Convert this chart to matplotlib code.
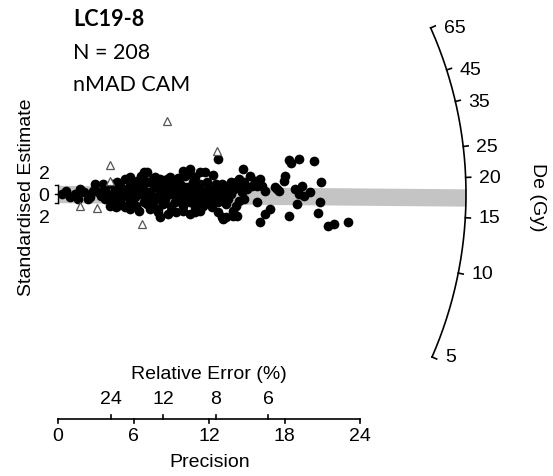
import numpy as np
import matplotlib.pyplot as plt
from matplotlib import font_manager

W, H = 553, 477
SX, SY = 12.6, 4.33      # pixels per unit (precision / standardised estimate)
X0, Y0 = 58, 195         # pixel position of origin
R_PX = 408               # radius of De arc in pixels
Z0 = np.log(17.77)       # central value (log De)
K = SY / SX

# ---- data ----
precision = [18.3, 18.5, 19.1, 20.3, 14.7, 18.0, 17.9, 20.9, 15.2, 15.6, 16.0, 16.2,
             16.4, 15.8, 15.4, 15.0, 14.6, 14.4, 14.8, 15.8, 14.0, 14.1, 14.2, 17.2,
             17.5, 18.8, 19.4, 19.1, 19.5, 20.0, 19.0, 20.8, 20.6, 18.3, 16.8, 16.4,
             16.0, 21.4, 21.9, 23.0, 12.7, 17.4, 13.9, 12.7, 13.0, 11.5, 13.9,
             7.1, 7.1, 7.3, 7.5, 7.9, 8.5, 8.7, 8.5, 9.0, 9.4, 9.5, 10.1, 10.5, 10.9,
             11.3, 11.7, 12.3, 9.8, 10.3, 10.9, 11.4, 11.9, 12.3, 12.7, 13.4, 13.8,
             10.1, 10.6, 11.1, 11.7, 12.2, 12.9, 13.5, 10.9, 11.3, 13.3, 9.5, 9.3,
             7.9, 8.1, 7.7, 9.1,
             0.95, 1.35, 1.75, 2.1, 2.5, 2.8, 3.2, 3.4, 3.7, 4.0, 4.2, 4.1, 4.5, 4.9,
             5.3, 5.6, 5.2, 5.7, 6.0, 6.4, 6.6, 6.9, 6.2, 6.8, 4.6, 5.3, 6.4, 6.8,
             5.7, 4.7, 7.5, 10.5, 13.1, 10.9, 7.1, 7.9, 4.7,
             0.3, 0.6, 1.6, 2.4, 2.9, 3.6, 4.4, 4.8, 5.1, 6.1, 6.5, 6.9, 7.3, 8.1,
             8.3, 8.9, 9.0, 9.7, 9.9, 10.3, 11.3, 11.8, 12.1, 12.5, 13.0, 13.3, 13.7,
             12.2, 10.5, 8.7, 8.1, 5.9, 7.7, 8.9, 9.9, 9.5, 10.9, 14.4, 14.8, 14.3,
             3.7, 4.3, 4.8, 5.0, 5.5, 5.9, 6.3, 6.7, 7.1, 7.5, 7.9, 8.3, 8.3, 8.65,
             9.3, 9.7, 10.1, 10.5, 10.7, 11.0, 11.5, 11.8, 12.1, 12.5, 12.7, 13.0,
             13.3, 13.7, 14.1, 9.0, 9.9, 7.3, 5.7]
std_est = [7.9, 7.2, 8.1, 7.6, 5.8, 4.2, 3.0, 2.8, 4.2, 3.0, 3.5, 1.8,
           0.7, 1.8, 1.8, 1.2, 0.5, -1.6, -1.2, -1.8, 1.2, -2.8, -5.1, 1.6,
           0.7, 1.2, 1.8, 0.0, -0.5, 0.5, -2.3, -1.8, -4.4, -5.1, -3.5, -4.6,
           -6.5, -7.4, -6.9, -6.5, 8.1, 1.2, -3.9, -4.2, -5.3, -2.8, -5.1,
           5.1, 2.8, 0.5, -2.8, -4.2, 2.3, 1.2, -1.2, -2.8, -4.2, 3.7, 4.2, 4.6, 3.9,
           5.1, 5.1, 4.4, 1.2, 1.6, 1.2, 0.5, 1.2, 1.2, 0.5, 1.8, 1.2,
           -0.7, -1.2, -1.8, -1.2, -1.6, -1.2, -1.2, -3.0, -3.9, -5.3, -1.6, 0.0,
           -0.5, 3.5, 1.6, 2.8,
           -0.7, 0.0, 1.2, 0.5, -0.7, 0.7, 0.5, -0.5, 1.2, 0.0, -1.6, -2.8, 1.2, 1.8,
           3.5, 1.6, -0.5, -1.6, 0.5, 1.8, 4.2, 3.0, -2.8, -1.8, -3.0, -3.0, -3.9, 5.1,
           3.9, 2.8, 3.5, 5.8, -5.8, -4.2, -2.3, -3.5, -2.8,
           0.0, 0.7, -1.2, -1.2, 2.3, 2.3, -0.2, 0.5, 1.2, -0.7, 0.0, 0.7, -1.2, 0.7,
           -2.3, 0.0, 1.6, 2.3, -2.8, 0.0, 2.3, 2.8, -0.5, 2.3, 1.2, 0.0, 2.8,
           -3.0, -4.6, -4.6, -5.3, 2.3, 3.9, 3.9, 5.3, 1.2, -0.7, 3.5, 2.8, 1.6,
           -1.2, 2.3, -1.2, -2.3, 0.0, -1.2, 3.0, 1.2, -0.5, 2.3, -1.2, 2.3, 0.0, 3.5,
           -1.8, 0.0, 1.6, -1.8, 2.8, 0.5, -0.5, -1.8, 1.2, -0.7, -1.8, 2.3,
           -2.3, 0.0, 2.8, -3.9, -3.9, -3.5, -3.5]
out_precision = [8.65, 12.6, 4.13, 4.13, 1.75, 3.1, 6.67]
out_std_est = [16.9, 9.9, 6.7, 3.0, -2.8, -3.2, -6.9]

de_ticks = [5, 10, 15, 20, 25, 35, 45, 65]
prec_ticks = [0, 6, 12, 18, 24]
rel_err_ticks = [24, 12, 8, 6]
z_ticks = [-2, 0, 2]
band_slope = -0.025

fs = 14
arial = font_manager.FontProperties(family='Liberation Sans', size=fs)
calibri = font_manager.FontProperties(family='Lato', size=15.5)
calibri_b = font_manager.FontProperties(family='Lato', size=15.5, weight='bold')

fig = plt.figure(figsize=(W / 100, H / 100), dpi=100)
ax = fig.add_axes([0, 0, 1, 1])
ax.set_xlim(-X0 / SX, (W - X0) / SX)
ax.set_ylim((Y0 - H) / SY, Y0 / SY)
ax.axis('off')

def th(v):
    return np.arctan(K * (np.log(v) - Z0))

def arc_xy(t, r=R_PX):
    return r / SX * np.cos(t), r / SY * np.sin(t)

# grey 2-sigma band
bx = np.array([0, R_PX / SX])
ax.fill_between(bx, -2 + band_slope * bx, 2 + band_slope * bx, color='#c4c4c4', lw=0, zorder=1)

# points
ax.plot(precision, std_est, 'o', color='k', ms=7, mew=0, zorder=3)
ax.plot(out_precision, out_std_est, '^', mfc='white', mec='#555555', mew=0.9, ms=5.5, zorder=4)

# De arc
t = np.linspace(th(min(de_ticks)), th(max(de_ticks)), 200)
ax.plot(*arc_xy(t), color='k', lw=1.2, clip_on=False)
for v in de_ticks:
    tv = th(v)
    x1, y1 = arc_xy(tv)
    x2, y2 = arc_xy(tv, R_PX + 5)
    ax.plot([x1, x2], [y1, y2], color='k', lw=1.2)
    ax.text(x1 + 13 / SX, y1, str(v), fontproperties=arial, ha='left', va='center')
ax.text((537 - X0) / SX, (Y0 - 197) / SY, 'De (Gy)', fontproperties=arial, rotation=270,
        ha='center', va='center')

# standardised estimate axis
ax.plot([0, 0], [-2, 2], color='k', lw=1.0)
for z, ly in zip(z_ticks, [219, 197, 175]):
    ax.plot([0, -3 / SX], [z, z], color='k', lw=1.0)
    ax.text((44 - X0) / SX, (Y0 - ly) / SY, str(abs(z)), fontproperties=arial,
            ha='center', va='center')
ax.text((26 - X0) / SX, (Y0 - 197) / SY, 'Standardised Estimate', fontproperties=arial,
        rotation=90, ha='center', va='center')

# precision / relative error axis
ya = (Y0 - 420) / SY
ax.plot([0, 24], [ya, ya], color='k', lw=1.2)
for p in prec_ticks:
    ax.plot([p, p], [ya, ya - 4 / SY], color='k', lw=1.2)
    ax.text(p, (Y0 - 437) / SY, str(p), fontproperties=arial, ha='center', va='center')
for re in rel_err_ticks:
    p = 100.0 / re
    ax.plot([p, p], [ya, ya + 4 / SY], color='k', lw=1.2)
    ax.text(p, (Y0 - 400) / SY, str(re), fontproperties=arial, ha='center', va='center')
ax.text(12, (Y0 - 375) / SY, 'Relative Error (%)', fontproperties=arial, ha='center', va='center')
ax.text(12, (Y0 - 463) / SY, 'Precision', fontproperties=arial, ha='center', va='center')

# header
for s, by, fp in [('LC19-8', 26, calibri_b), ('N = 208', 59, calibri), ('nMAD CAM', 91, calibri)]:
    fig.text(73 / W, 1 - by / H, s, fontproperties=fp, ha='left', va='baseline')

fig.savefig('out.png', dpi=100)
